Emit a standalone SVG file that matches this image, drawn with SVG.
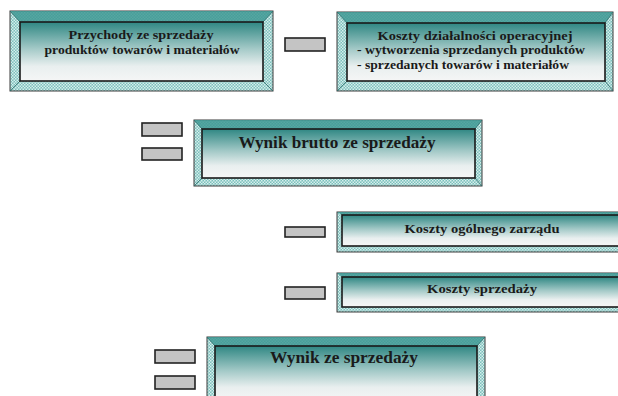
<svg xmlns="http://www.w3.org/2000/svg" width="618" height="396" viewBox="0 0 618 396">
<style>
.frame{fill:url(#chk);stroke:#3a3a3a;stroke-width:1}
.bevtop{fill:#3f9994;opacity:0.85}
.bevline{stroke:#2f6f6c;stroke-width:0.8;fill:none}
.inner{fill:url(#grad);stroke:#1a1a1a;stroke-width:1.6}
.op{fill:#c4c4c4;stroke:#222;stroke-width:1.6}
text{font-family:"Liberation Serif","Times New Roman",serif;font-weight:bold;fill:#1a1a1a}
.s{font-size:12px}
.l{font-size:16.5px}
</style>
<defs>
<linearGradient id="grad" x1="0" y1="0" x2="0" y2="1">
<stop offset="0" stop-color="#2f8783"/>
<stop offset="0.45" stop-color="#a3c9c7"/>
<stop offset="0.75" stop-color="#e9efef"/>
<stop offset="1" stop-color="#f5f6f6"/>
</linearGradient>
<pattern id="chk" width="3" height="3" patternUnits="userSpaceOnUse">
<rect width="3" height="3" fill="#7cc0bc"/>
<rect width="1.5" height="1.5" fill="#d6eeec"/>
<rect x="1.5" y="1.5" width="1.5" height="1.5" fill="#d6eeec"/>
</pattern>
</defs>

<g id="operators">
<rect class="op" x="285" y="38" width="40" height="13"/>
<rect class="op" x="142" y="123" width="40" height="13"/>
<rect class="op" x="142" y="148" width="40" height="12"/>
<rect class="op" x="285" y="227" width="40" height="10"/>
<rect class="op" x="285" y="287" width="40" height="12"/>
<rect class="op" x="155" y="350" width="40" height="13"/>
<rect class="op" x="155" y="376" width="40" height="13"/>
</g>

<g id="przychody">
<rect class="frame" x="10" y="11" width="263" height="80"/>
<polygon class="bevtop" points="10,11 273,11 263,22 20,22"/>
<path class="bevline" d="M10,11 L20,22 M273,11 L263,22 M10,91 L20,81 M273,91 L263,81"/>
<rect class="inner" x="20" y="22" width="243" height="59"/>
<text class="s" x="141" y="39" text-anchor="middle" textLength="145" lengthAdjust="spacingAndGlyphs">Przychody ze sprzedaży</text>
<text class="s" x="142" y="54" text-anchor="middle" textLength="195" lengthAdjust="spacingAndGlyphs">produktów towarów i materiałów</text>
</g>

<g id="koszty-operacyjne">
<rect class="frame" x="337" y="12" width="276" height="79"/>
<polygon class="bevtop" points="337,12 613,12 605,23 347,23"/>
<path class="bevline" d="M337,12 L347,23 M613,12 L605,23 M337,91 L347,81 M613,91 L605,81"/>
<rect class="inner" x="347" y="23" width="258" height="58"/>
<text class="s" x="475" y="40" text-anchor="middle" textLength="195" lengthAdjust="spacingAndGlyphs">Koszty działalności operacyjnej</text>
<text class="s" x="357" y="54" textLength="228" lengthAdjust="spacingAndGlyphs">- wytworzenia sprzedanych produktów</text>
<text class="s" x="357" y="69" textLength="212" lengthAdjust="spacingAndGlyphs">- sprzedanych towarów i materiałów</text>
</g>

<g id="wynik-brutto">
<rect class="frame" x="194" y="120" width="288" height="66"/>
<polygon class="bevtop" points="194,120 482,120 475,129 202,129"/>
<path class="bevline" d="M194,120 L202,129 M482,120 L475,129 M194,186 L202,178 M482,186 L475,178"/>
<rect class="inner" x="202" y="129" width="273" height="49"/>
<text class="l" x="337" y="148" text-anchor="middle" textLength="197" lengthAdjust="spacingAndGlyphs">Wynik brutto ze sprzedaży</text>
</g>

<g id="koszty-zarzadu">
<rect class="frame" x="337" y="212" width="300" height="40"/>
<polygon class="bevtop" points="337,212 637,212 637,215 342,215"/>
<rect class="inner" x="342" y="215" width="300" height="31"/>
<text class="s" x="482" y="233" text-anchor="middle" textLength="155" lengthAdjust="spacingAndGlyphs">Koszty ogólnego zarządu</text>
</g>

<g id="koszty-sprzedazy">
<rect class="frame" x="337" y="273" width="300" height="39"/>
<polygon class="bevtop" points="337,273 637,273 637,277 342,277"/>
<rect class="inner" x="342" y="277" width="300" height="30"/>
<text class="s" x="482" y="293" text-anchor="middle" textLength="110" lengthAdjust="spacingAndGlyphs">Koszty sprzedaży</text>
</g>

<g id="wynik-ze-sprzedazy">
<rect class="frame" x="207" y="337" width="278" height="70"/>
<polygon class="bevtop" points="207,337 485,337 477,346 215,346"/>
<path class="bevline" d="M207,337 L215,346 M485,337 L477,346"/>
<rect class="inner" x="215" y="346" width="262" height="55"/>
<text class="l" x="344" y="363" text-anchor="middle" textLength="148" lengthAdjust="spacingAndGlyphs">Wynik ze sprzedaży</text>
</g>
</svg>
